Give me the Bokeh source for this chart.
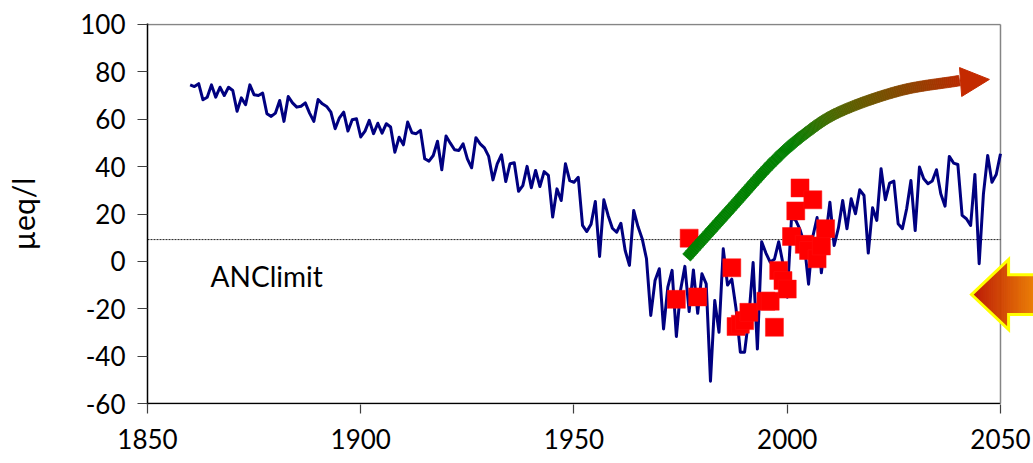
import numpy as np
from bokeh.plotting import figure
from bokeh.models import Range1d, FixedTicker, Label
from bokeh.embed import file_html
from bokeh.resources import INLINE

# ---------------- data ----------------
years = list(range(1860, 2051))
anc = [
    74.5, 73.8, 75.0, 68.2, 69.3, 74.5, 69.3, 73.5, 70.0, 73.5,
    72.1, 63.4, 69.0, 66.1, 74.5, 70.3, 70.0, 71.0, 62.3, 61.2,
    62.6, 67.9, 59.1, 69.6, 66.9, 65.1, 65.5, 66.9, 62.6, 59.1,
    68.3, 66.5, 65.4, 63.0, 56.0, 60.6, 63.0, 55.0, 59.8, 60.2,
    52.5, 55.0, 59.5, 53.9, 58.3, 54.1, 58.1, 56.7, 46.1, 52.4,
    49.2, 58.8, 54.3, 53.9, 55.3, 43.3, 42.3, 44.7, 50.7, 38.7,
    52.9, 49.9, 47.1, 46.8, 49.6, 43.3, 39.5, 52.2, 49.6, 47.9,
    44.3, 34.4, 41.2, 45.0, 33.7, 41.2, 41.6, 29.6, 32.0, 40.1,
    31.1, 38.4, 31.6, 37.9, 36.3, 18.7, 30.6, 25.7, 41.2, 34.1,
    33.4, 35.5, 15.2, 12.6, 15.7,
    25.3, 2.1, 26.0, 19.4, 14.0, 12.3, 16.1, 4.6, -1.7, 21.5,
    14.7, 9.5, 1.1, -22.8, -8.1, -3.1, -28.5, -10.9, -3.8, -31.7,
    -12.0, -2.1, -21.2, -3.6, -21.9, -5.2, -9.5, -50.6, -16.5, -29.9,
    5.3, -10.0, -7.5, -20.0, -38.3, -38.3, -23.5, -0.5, -37.0, 8.3,
    3.5, -0.3, 0.9, 8.3, -1.0,
    -15.1, 18.5, 17.3, 13.4, 7.4, -9.6, 10.5, 18.5, -4.8, 10.0,
    25.0, 6.7, 14.1, 25.7, 13.8, 26.4, 20.1, 30.2, 27.8, 3.5,
    22.6, 17.3, 39.1, 26.0, 33.0, 33.9, 15.9, 13.8, 22.2, 34.1,
    13.0, 39.8, 34.9, 32.8, 33.9, 38.7, 28.5, 23.3, 44.3, 41.5,
    40.9, 19.4, 18.0, 15.2, 36.7, -1.0, 28.5, 44.7, 33.4, 36.7,
    45.4,
]
obs_years = [1974, 1977, 1979, 1987, 1988, 1989, 1990, 1991, 1995, 1996, 1997,
             1998, 1999, 2000, 2001, 2002, 2003, 2004, 2005, 2006, 2007, 2008, 2009]
obs_anc = [-16.0, 9.8, -15.0, -2.7, -27.5, -26.5, -25.0, -21.5, -16.8, -16.8, -27.8,
           -3.8, -8.1, -11.7, 10.5, 21.3, 31.0, 7.2, 4.6, 26.0, 1.1, 6.5, 13.8]
anc_limit = 9.2
x_ticks = [1850, 1900, 1950, 2000, 2050]
y_ticks = [-60, -40, -20, 0, 20, 40, 60, 80, 100]
y_label = "µeq/l"
limit_label = "ANClimit"

# decorative arrows (data coordinates)
trend_path_x = [1976.4, 1986.46, 1996.54, 2004.28, 2012.49, 2026.55, 2040.39]
trend_path_y = [1.6, 21.7, 41.75, 54.0, 63.3, 72.1, 76.3]
trend_head_x = [2047.4, 2040.4, 2040.9]
trend_head_y = [76.8, 81.8, 69.6]

FONT = "Lato"
PX_PER_YEAR, PX_PER_UNIT = 4.265, 2.369   # screen scale of the frame

p = figure(width=1033, height=460,
           x_range=Range1d(1850, 2057.74), y_range=Range1d(-60.4, 100.4),
           output_backend="svg", toolbar_location=None,
           min_border_left=147, min_border_right=0,
           min_border_top=23, min_border_bottom=56)
p.outline_line_color = None
p.grid.visible = False
p.background_fill_color = "white"
p.border_fill_color = "white"

# axes
p.xaxis.ticker = FixedTicker(ticks=x_ticks)
p.xaxis.major_label_overrides = {t: str(t) for t in x_ticks}
p.xaxis.axis_line_color = None
p.xaxis.major_tick_out = 9
p.xaxis.major_tick_in = 0
p.xaxis.minor_tick_line_color = None
p.xaxis.major_tick_line_color = "#404040"
p.xaxis.major_tick_line_width = 1.2
p.xaxis.major_label_text_font = FONT
p.xaxis.major_label_text_font_size = "26px"
p.xaxis.major_label_text_color = "black"
p.xaxis.major_label_standoff = 15

p.yaxis.ticker = FixedTicker(ticks=y_ticks)
p.yaxis.major_label_overrides = {t: str(t) for t in y_ticks}
p.yaxis.axis_line_color = "black"
p.yaxis.axis_line_width = 1.5
p.yaxis.major_tick_out = 10
p.yaxis.major_tick_in = 0
p.yaxis.minor_tick_line_color = None
p.yaxis.major_tick_line_color = "#404040"
p.yaxis.major_tick_line_width = 1.2
p.yaxis.major_label_text_font = FONT
p.yaxis.major_label_text_font_size = "26px"
p.yaxis.major_label_text_color = "black"
p.yaxis.major_label_standoff = 12
p.yaxis.axis_label = y_label
p.yaxis.axis_label_text_font = FONT
p.yaxis.axis_label_text_font_size = "30px"
p.yaxis.axis_label_text_font_style = "normal"
p.yaxis.axis_label_text_color = "black"
p.yaxis.axis_label_standoff = 36

# frame lines: bottom axis line, top and right border
x0, x1 = x_ticks[0], x_ticks[-1]
y0, y1 = y_ticks[0], y_ticks[-1]
p.segment(x0=[x0], y0=[y0], x1=[x1], y1=[y0], line_color="black", line_width=1.5)
p.segment(x0=[x0, x1], y0=[y1, y0], x1=[x1, x1], y1=[y1, y1], line_color="#858585", line_width=1.5)

# ANC limit dotted line
p.segment(x0=[x0], y0=[anc_limit], x1=[x1], y1=[anc_limit],
          line_color="#222222", line_width=1, line_dash="2 1")

# main series
p.line(years, anc, line_color="#000080", line_width=3, line_join="round")

# observations
p.scatter(obs_years, obs_anc, marker="square", size=18,
          fill_color="#FF0000", line_color="#FF1010", line_width=0.5)

# curved trend arrow (gradient green -> red)
def catmull(xs, ys, n=30):
    P = np.column_stack([xs, ys]).astype(float)
    P = np.vstack([2 * P[0] - P[1], P, 2 * P[-1] - P[-2]])
    out = []
    for i in range(1, len(P) - 2):
        q0, q1, q2, q3 = P[i - 1], P[i], P[i + 1], P[i + 2]
        for t in np.linspace(0, 1, n, endpoint=False):
            t2, t3 = t * t, t * t * t
            out.append(0.5 * ((2 * q1) + (-q0 + q2) * t + (2 * q0 - 5 * q1 + 4 * q2 - q3) * t2
                              + (-q0 + 3 * q1 - 3 * q2 + q3) * t3))
    out.append(P[-2])
    return np.array(out)

def lerp_col(stops, t):
    for (ta, ca), (tb, cb) in zip(stops[:-1], stops[1:]):
        if t <= tb:
            f = 0 if tb == ta else (t - ta) / (tb - ta)
            c = [int(round(a + (b - a) * f)) for a, b in zip(ca, cb)]
            return "#%02x%02x%02x" % tuple(c)
    return "#%02x%02x%02x" % tuple(stops[-1][1])

curve = catmull(trend_path_x, trend_path_y, 30)
# offset the centre line by half the shaft width, in screen pixels
scale = np.array([PX_PER_YEAR, PX_PER_UNIT])
scr = curve * scale
tang = np.gradient(scr, axis=0)
tang /= np.linalg.norm(tang, axis=1, keepdims=True)
norm = np.column_stack([-tang[:, 1], tang[:, 0]])
half_w = 5.2
left_pts = (scr + norm * half_w) / scale
right_pts = (scr - norm * half_w) / scale
stops = [(0.0, (0, 128, 0)), (0.42, (0, 128, 0)), (0.64, (75, 105, 0)), (1.0, (185, 42, 0))]
nseg = len(curve) - 1
px_list, py_list, seg_cols = [], [], []
for i in range(nseg):
    px_list.append([left_pts[i, 0], left_pts[i + 1, 0], right_pts[i + 1, 0], right_pts[i, 0]])
    py_list.append([left_pts[i, 1], left_pts[i + 1, 1], right_pts[i + 1, 1], right_pts[i, 1]])
    seg_cols.append(lerp_col(stops, i / nseg))
p.patches(px_list, py_list, fill_color=seg_cols, line_color=seg_cols, line_width=0.8)
p.patch(trend_head_x, trend_head_y, fill_color="#C42A00", line_color="#C42A00", line_width=1)

# right-hand orange arrow pointing left (gradient with yellow outline)
tip_x, base_x, end_x = 2043.2, 2051.9, 2062.0
c_y, head_h, shaft_h = -14.0, 14.8, 8.4
edges = np.linspace(tip_x, end_x, 100)
lefts, rights, tops, bottoms, cols = [], [], [], [], []
for a, b in zip(edges[:-1], edges[1:]):
    m = 0.5 * (a + b)
    h = head_h * (m - tip_x) / (base_x - tip_x) if m < base_x else shaft_h
    lefts.append(a); rights.append(b); tops.append(c_y + h); bottoms.append(c_y - h)
    f = (m - tip_x) / (2058.0 - tip_x)
    cols.append(lerp_col([(0.0, (185, 18, 0)), (1.0, (235, 125, 0))], min(max(f, 0), 1)))
p.quad(left=lefts, right=rights, top=tops, bottom=bottoms,
       fill_color=cols, line_color=cols, line_width=0.6)
p.patch([tip_x, base_x, base_x, end_x, end_x, base_x, base_x],
        [c_y, c_y + head_h, c_y + shaft_h, c_y + shaft_h, c_y - shaft_h, c_y - shaft_h, c_y - head_h],
        fill_color=None, line_color="#FFFF00", line_width=3, line_join="miter")

p.add_layout(Label(x=1864.8, y=-6.0, text=limit_label, text_font=FONT,
                   text_font_size="28px", text_color="black", text_baseline="middle"))

open("out.html", "w").write(file_html(p, INLINE))
